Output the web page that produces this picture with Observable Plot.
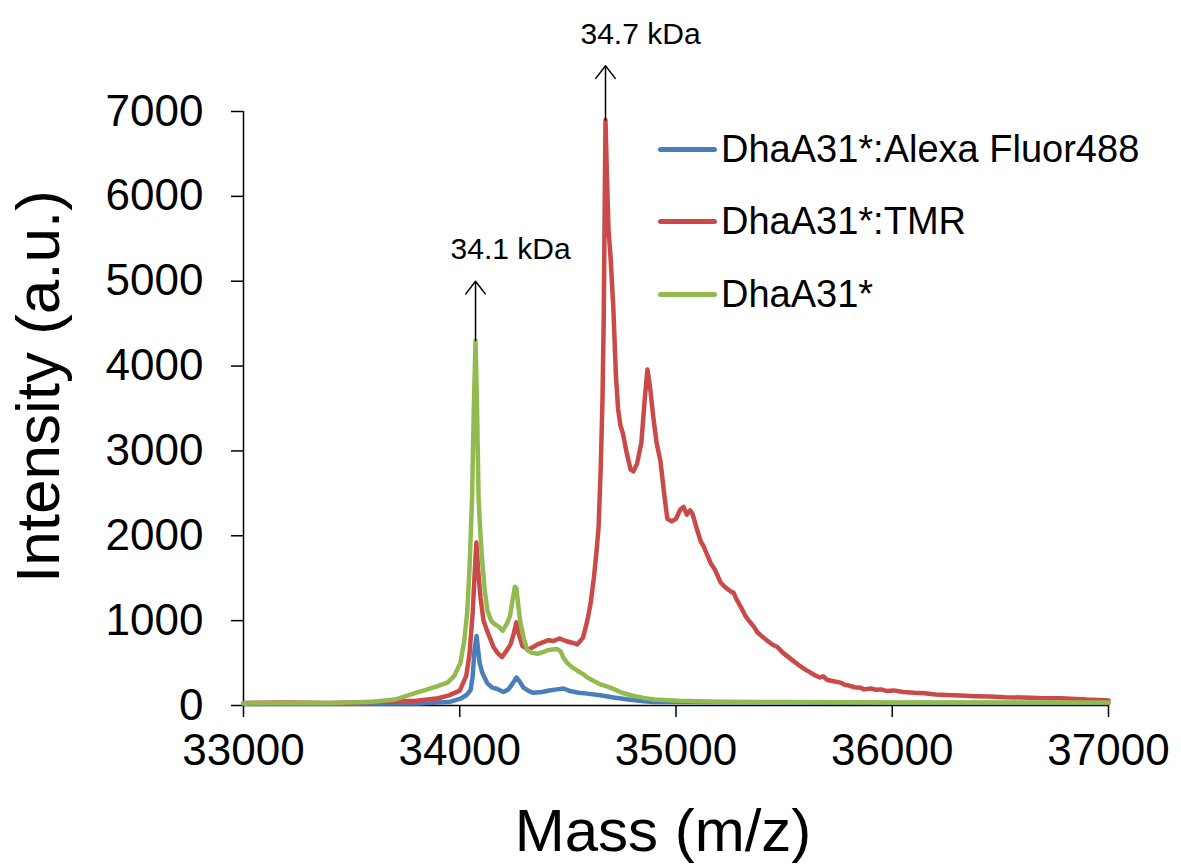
<!DOCTYPE html>
<html>
<head>
<meta charset="utf-8">
<script src="https://cdn.jsdelivr.net/npm/d3@7"></script>
<script src="https://cdn.jsdelivr.net/npm/@observablehq/plot@0.6"></script>
<style>
  html, body { margin: 0; padding: 0; background: #fff; }
  #wrap { position: relative; width: 1181px; height: 865px; font-family: "Liberation Sans", Arial, sans-serif; }
  #legend { position: absolute; left: 658px; top: 113px; }
  .row { display: flex; align-items: center; height: 72.5px; font-size: 38px; color: #000; }
  .sw { width: 59px; height: 5px; border-radius: 3px; margin-right: 4px; }
</style>
</head>
<body>
<div id="wrap"></div>
<script>
// ---- data ----
const seriesNames = ["DhaA31*:Alexa Fluor488", "DhaA31*:TMR", "DhaA31*"];
const seriesColors = ["#4a7ebb", "#c94a48", "#92bb4f"];

const massAlexa = [33000,33300,33500,33800,33950,34003,34030,34050,34060,34068,34078,34085,34092,34105,34128,34150,34174,34202,34225,34245,34262,34275,34295,34320,34341,34380,34420,34450,34480,34510,34550,34590,34650,34711,34780,34850,34900,35000,35300,35600,36000,36500,37000];
const intAlexa  = [20,22,20,25,40,80,120,180,350,650,820,650,500,380,260,210,195,160,190,260,330,290,210,170,150,160,180,190,200,170,150,140,120,94,70,50,40,40,38,35,30,30,30];

const massTMR = [33000,33200,33400,33600,33800,33900,33950,34000,34030,34045,34060,34070,34077,34085,34096,34110,34128,34156,34175,34195,34215,34235,34250,34262,34272,34290,34318,34340,34360,34390,34410,34434,34460,34490,34520,34544,34570,34590,34605,34620,34632,34642,34652,34660,34666,34670,34674,34680,34688,34697,34710,34722,34732,34743,34755,34770,34790,34803,34820,34840,34855,34868,34880,34895,34910,34928,34945,34960,34980,35000,35020,35035,35050,35065,35076,35100,35115,35127,35140,35160,35180,35206,35225,35240,35255,35266,35280,35300,35320,35340,35360,35377,35395,35420,35445,35469,35495,35520,35545,35576,35600,35620,35640,35665,35680,35700,35730,35760,35780,35800,35825,35853,35870,35900,35925,35950,35975,36006,36050,36100,36150,36200,36250,36316,36380,36450,36520,36600,36680,36778,36850,36900,36950,37000];
const intTMR  = [30,35,30,40,55,85,120,175,350,600,1100,1600,1920,1600,1270,1000,870,690,620,570,640,720,850,980,850,700,660,690,720,750,770,760,790,760,740,720,800,1000,1200,1500,1800,2100,2800,3600,4600,5800,6900,6300,5600,5300,4700,3900,3500,3300,3200,3000,2780,2760,2850,3100,3600,3960,3750,3400,3100,2880,2500,2200,2170,2200,2310,2340,2250,2300,2260,2050,1930,1880,1800,1680,1600,1450,1400,1370,1340,1330,1250,1160,1060,990,930,860,820,770,720,690,620,570,520,460,420,390,360,330,345,300,285,270,245,235,215,210,190,200,185,190,170,178,160,150,145,130,125,118,110,105,98,95,88,85,78,70,65,60];

const massApo = [33000,33200,33400,33600,33700,33786,33850,33900,33943,33975,34003,34020,34034,34045,34057,34065,34073,34080,34087,34096,34105,34116,34128,34145,34160,34180,34198,34215,34232,34245,34255,34262,34272,34281,34297,34313,34335,34360,34385,34405,34430,34450,34466,34480,34498,34520,34544,34570,34590,34620,34650,34697,34750,34800,34850,34900,35007,35200,35500,36000,36500,37000];
const intApo  = [25,30,30,45,70,140,190,230,270,350,500,750,1080,1600,2450,3500,4300,3500,2450,2000,1670,1350,1120,1000,960,930,880,950,1050,1250,1400,1380,1150,970,780,650,620,610,630,650,660,665,640,560,500,450,410,370,330,290,250,210,150,115,90,70,55,45,40,35,35,35];

const peakLabels = ["34.1 kDa", "34.7 kDa"];
const peakMass   = [34073, 34674];
const peakTop    = [4300, 6900];
const arrowTip   = [5000, 7540];

const xTicks = [33000, 34000, 35000, 36000, 37000];
const yTicks = [0, 1000, 2000, 3000, 4000, 5000, 6000, 7000];

// ---- tables built from the arrays ----
const rows = [];
[[massAlexa, intAlexa], [massTMR, intTMR], [massApo, intApo]].forEach(([m, v], k) => {
  m.forEach((x, i) => rows.push({series: seriesNames[k], mass: x, intensity: v[i]}));
});
const peaks = peakLabels.map((label, i) => ({label, mass: peakMass[i], top: peakTop[i], tip: arrowTip[i]}));

const chart = Plot.plot({
  width: 1181,
  height: 865,
  marginLeft: 243,
  marginRight: 73,
  marginTop: 111,
  marginBottom: 160,
  style: {fontFamily: "'Liberation Sans', Arial, sans-serif", color: "#000", background: "#fff"},
  x: {domain: [33000, 37000]},
  y: {domain: [0, 7000]},
  color: {domain: seriesNames, range: seriesColors},
  marks: [
    Plot.ruleY([0], {stroke: "#000", strokeWidth: 1.5}),
    Plot.ruleX([33000], {stroke: "#000", strokeWidth: 1.5}),
    Plot.axisX({ticks: xTicks, tickSize: 12, tickPadding: 16, fontSize: 44, tickFormat: d3.format("d"), label: null, strokeWidth: 1.5}),
    Plot.axisY({ticks: yTicks, tickSize: 12, tickPadding: 28, fontSize: 44, tickFormat: d3.format("d"), label: null, strokeWidth: 1.5}),
    Plot.line(rows, {x: "mass", y: "intensity", z: "series", stroke: "series", strokeWidth: 4.5, strokeLinejoin: "round", strokeLinecap: "round"}),
    Plot.arrow(peaks, {x1: "mass", x2: "mass", y1: "top", y2: "tip", stroke: "#000", strokeWidth: 1.5, headLength: 16, headAngle: 75}),
    Plot.text(peaks, {x: "mass", y: "tip", text: "label", textAnchor: "start", lineAnchor: "bottom", dx: -25, dy: -22, fontSize: 30}),
    Plot.text(["Intensity (a.u.)"], {text: d => d, frameAnchor: "left", textAnchor: "middle", lineAnchor: "middle", dx: -204, dy: -22, rotate: -90, fontSize: 62}),
    Plot.text(["Mass (m/z)"], {text: d => d, frameAnchor: "bottom", dx: -13, dy: 145, fontSize: 60})
  ]
});

const wrap = document.getElementById("wrap");
wrap.appendChild(chart);

// legend (HTML, overlaid at the top right of the plot)
const legend = document.createElement("div");
legend.id = "legend";
seriesNames.forEach((name, i) => {
  const row = document.createElement("div");
  row.className = "row";
  const sw = document.createElement("div");
  sw.className = "sw";
  sw.style.background = seriesColors[i];
  const t = document.createElement("span");
  t.textContent = name;
  row.appendChild(sw);
  row.appendChild(t);
  legend.appendChild(row);
});
wrap.appendChild(legend);
</script>
</body>
</html>
